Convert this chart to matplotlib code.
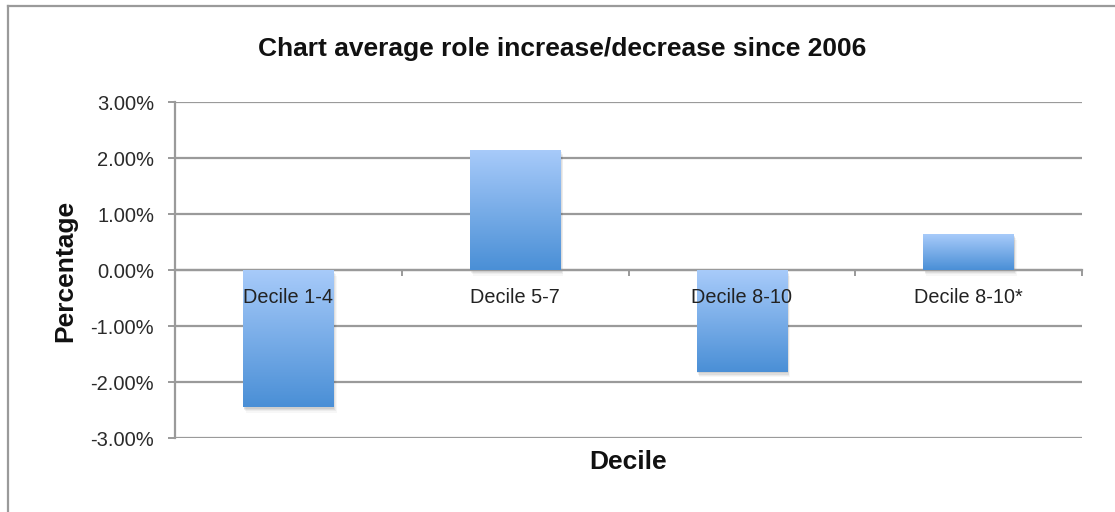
import numpy as np
import matplotlib
matplotlib.use("Agg")
import matplotlib.pyplot as plt
from matplotlib.colors import LinearSegmentedColormap
from matplotlib.lines import Line2D
from matplotlib import patheffects as pe

# Chart data
categories = ["Decile 1-4", "Decile 5-7", "Decile 8-10", "Decile 8-10*"]
values = [-2.45, 2.15, -1.82, 0.64]          # percent change since 2006
y_ticks = [-3, -2, -1, 0, 1, 2, 3]
title = "Chart average role increase/decrease since 2006"
x_label = "Decile"
y_label = "Percentage"

plt.rcParams["font.family"] = ["Liberation Sans", "DejaVu Sans"]

W, H = 1115, 512
fig = plt.figure(figsize=(W / 100, H / 100), dpi=100)
fig.patch.set_facecolor("white")

ax = fig.add_axes([175 / W, 1 - 438 / H, (1082 - 175) / W, (438 - 102) / H])

grid_col = "#9a9a9a"
ax.set_xlim(-0.5, len(categories) - 0.5)
ax.set_ylim(min(y_ticks), max(y_ticks))
ax.set_yticks(y_ticks)
ax.set_yticklabels([f"{t:.2f}%" for t in y_ticks])
ax.yaxis.grid(True, color=grid_col, linewidth=1.6, zorder=0)
ax.set_axisbelow(True)

for side in ("top", "right"):
    ax.spines[side].set_visible(False)
ax.spines["left"].set_color(grid_col)
ax.spines["left"].set_linewidth(1.6)
ax.spines["bottom"].set_position(("data", 0))
ax.spines["bottom"].set_color(grid_col)
ax.spines["bottom"].set_linewidth(1.6)

# Category boundary ticks on the zero line
ax.set_xticks(np.arange(-0.5, len(categories), 1.0))
ax.set_xticklabels([])
ax.tick_params(axis="x", direction="out", length=4, width=1.4, color=grid_col)
ax.tick_params(axis="y", direction="out", length=5, width=1.4, color=grid_col,
               labelsize=14.5, labelcolor="#2a2a2a", pad=10)

# Gradient-filled bars with a soft drop shadow
cmap = LinearSegmentedColormap.from_list("barfade", ["#a8cbfa", "#4a8fd6"])
grad = np.linspace(0, 1, 256).reshape(-1, 1)
bar_w = 0.4
bars = ax.bar(range(len(categories)), values, width=bar_w, color="#78aee9",
              edgecolor="none", zorder=2)
soft_shadow = [pe.SimplePatchShadow(offset=(dx, dy), shadow_rgbFace="#000000", alpha=a)
               for dx, dy, a in [(0.5, -1.0, 0.07), (1.0, -2.0, 0.06),
                                 (1.5, -3.0, 0.045), (2.0, -4.0, 0.03)]]
for b in bars:
    b.set_path_effects(soft_shadow + [pe.Normal()])
    x0 = b.get_x()
    x1 = x0 + b.get_width()
    y0 = min(b.get_y(), b.get_y() + b.get_height())
    y1 = max(b.get_y(), b.get_y() + b.get_height())
    im = ax.imshow(grad, extent=[x0, x1, y0, y1], origin="upper", aspect="auto",
                   cmap=cmap, zorder=3, interpolation="bilinear")
    im.set_clip_path(b)

ax.set_xlim(-0.5, len(categories) - 0.5)
ax.set_ylim(min(y_ticks), max(y_ticks))

# Category labels just below the zero line
for i, name in enumerate(categories):
    ax.annotate(name, xy=(i, 0), xytext=(0, -13), textcoords="offset points",
                ha="center", va="top", fontsize=14.3, color="#222222", zorder=5)

fig.text(562 / W, 1 - 49 / H, title, ha="center", va="center",
         fontsize=19, fontweight="bold", color="#111111")
fig.text(628 / W, 1 - 462 / H, x_label, ha="center", va="center",
         fontsize=19, fontweight="bold", color="#111111")
fig.text(65 / W, 1 - 271 / H, y_label, ha="center", va="center", rotation=90,
         fontsize=19, fontweight="bold", color="#111111")

# Chart frame edges
fig.add_artist(Line2D([8 / W, 8 / W], [0, 1 - 6 / H], transform=fig.transFigure,
                      color=grid_col, linewidth=1.6))
fig.add_artist(Line2D([8 / W, 1], [1 - 6 / H, 1 - 6 / H], transform=fig.transFigure,
                      color=grid_col, linewidth=1.6))

fig.savefig("out.png", dpi=100, facecolor="white")
